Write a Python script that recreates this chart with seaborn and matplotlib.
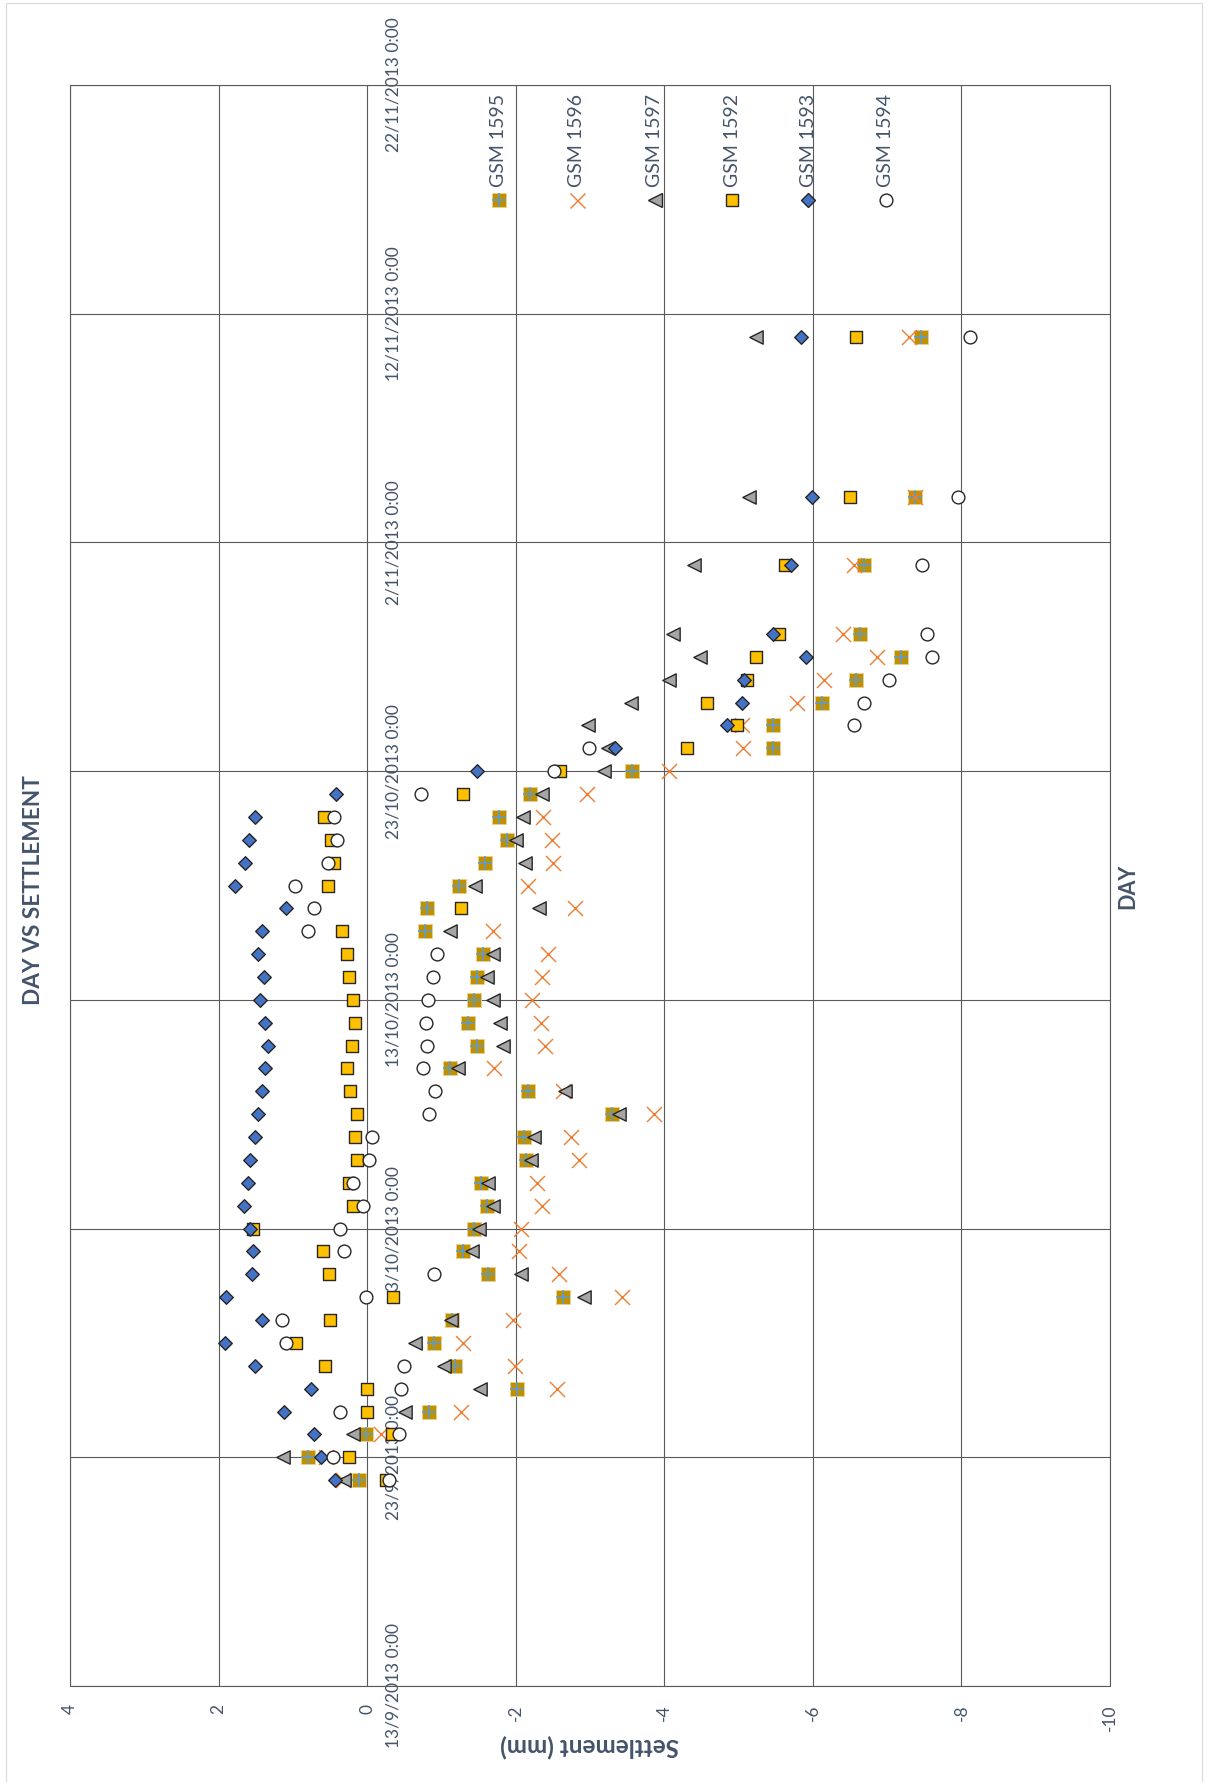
import numpy as np
import pandas as pd
import matplotlib
matplotlib.use("Agg")
import matplotlib.pyplot as plt
from matplotlib.lines import Line2D
from matplotlib.patches import Rectangle
import seaborn as sns

# ---- data -------------------------------------------------------------
dates = pd.to_datetime([
    "2013-09-22", "2013-09-23", "2013-09-24", "2013-09-25", "2013-09-26",
    "2013-09-27", "2013-09-28", "2013-09-29", "2013-09-30", "2013-10-01",
    "2013-10-02", "2013-10-03", "2013-10-04", "2013-10-05", "2013-10-06",
    "2013-10-07", "2013-10-08", "2013-10-09", "2013-10-10", "2013-10-11",
    "2013-10-12", "2013-10-13", "2013-10-14", "2013-10-15", "2013-10-16",
    "2013-10-17", "2013-10-18", "2013-10-19", "2013-10-20", "2013-10-21",
    "2013-10-22", "2013-10-23", "2013-10-24", "2013-10-25", "2013-10-26",
    "2013-10-27", "2013-10-28", "2013-10-29", "2013-11-01", "2013-11-04",
    "2013-11-11",
])

gsm_1595 = [0.11, 0.79, 0.01, -0.83, -2.02, -1.18, -0.90, -1.14, -2.64, -1.63,
            -1.29, -1.44, -1.61, -1.53, -2.14, -2.11, -3.30, -2.16, -1.11, -1.48,
            -1.36, -1.44, -1.48, -1.56, -0.78, -0.80, -1.24, -1.58, -1.88, -1.78,
            -2.19, -3.56, -5.47, -5.46, -6.12, -6.58, -7.19, -6.63, -6.69, -7.37,
            -7.45]
gsm_1596 = [0.32, 0.56, -0.18, -1.27, -2.55, -1.99, -1.29, -1.96, -3.43, -2.58,
            -2.05, -2.07, -2.36, -2.28, -2.85, -2.75, -3.86, -2.63, -1.71, -2.40,
            -2.34, -2.22, -2.36, -2.43, -1.70, -2.80, -2.17, -2.50, -2.49, -2.37,
            -2.96, -4.06, -5.06, -5.04, -5.79, -6.15, -6.87, -6.41, -6.56, -7.37,
            -7.29]
gsm_1597 = [0.31, 1.13, 0.19, -0.51, -1.52, -1.03, -0.65, -1.13, -2.92, -2.07,
            -1.41, -1.51, -1.69, -1.63, -2.20, -2.25, -3.39, -2.67, -1.22, -1.83,
            -1.79, -1.69, -1.62, -1.69, -1.12, -2.32, -1.45, -2.12, -2.01, -2.10,
            -2.35, -3.19, -3.24, -2.97, -3.55, -4.06, -4.48, -4.12, -4.40, -5.14,
            -5.23]
gsm_1592 = [-0.25, 0.24, -0.34, 0.00, 0.00, 0.57, 0.96, 0.50, -0.35, 0.52,
            0.59, 1.54, 0.19, 0.25, 0.13, 0.16, 0.14, 0.23, 0.27, 0.21,
            0.16, 0.19, 0.25, 0.27, 0.34, -1.27, 0.53, 0.45, 0.49, 0.575,
            -1.29, -2.60, -4.30, -4.98, -4.57, -5.12, -5.23, -5.55, -5.62, -6.50,
            -6.58]
gsm_1593 = [0.43, 0.62, 0.72, 1.12, 0.76, 1.51, 1.92, 1.42, 1.90, 1.55,
            1.53, 1.58, 1.66, 1.60, 1.58, 1.51, 1.47, 1.41, 1.38, 1.33,
            1.37, 1.44, 1.39, 1.47, 1.42, 1.09, 1.78, 1.64, 1.59, 1.51,
            0.42, -1.48, -3.33, -4.85, -5.04, -5.07, -5.91, -5.47, -5.71, -5.99,
            -5.84]
gsm_1594 = [-0.29, 0.46, -0.43, 0.36, -0.45, -0.49, 1.09, 1.14, 0.01, -0.90,
            0.31, 0.36, 0.06, 0.19, -0.02, -0.06, -0.83, -0.91, -0.75, -0.81,
            -0.79, -0.82, -0.89, -0.94, 0.79, 0.71, 0.97, 0.53, 0.40, 0.45,
            -0.72, -2.51, -2.98, -6.56, -6.69, -7.02, -7.60, -7.54, -7.47, -7.95,
            -8.12]

settlement_ticks = [4, 2, 0, -2, -4, -6, -8, -10]
date_ticks = pd.to_datetime(["2013-09-13", "2013-09-23", "2013-10-03", "2013-10-13",
                             "2013-10-23", "2013-11-02", "2013-11-12", "2013-11-22"])
date_tick_labels = ["13/9/2013 0:00", "23/9/2013 0:00", "3/10/2013 0:00",
                    "13/10/2013 0:00", "23/10/2013 0:00", "2/11/2013 0:00",
                    "12/11/2013 0:00", "22/11/2013 0:00"]
legend_labels = ["GSM 1595", "GSM 1596", "GSM 1597", "GSM 1592", "GSM 1593", "GSM 1594"]

# ---- style ------------------------------------------------------------
sns.set_theme(style="white")
plt.rcParams["font.family"] = ["Lato", "DejaVu Sans"]
TEXT = "#44546A"
GRID = "#5A5A5A"
EDGE = "#262626"

W, H = 1211, 1782
fig = plt.figure(figsize=(W / 100, H / 100), dpi=100)
fig.patch.set_facecolor("white")
# light chart-area border (its lower edge runs past the canvas)
fig.add_artist(Rectangle((6 / W, -10 / H), 1196 / W, 1789 / H, transform=fig.transFigure,
                         fill=False, edgecolor="#D9D9D9", linewidth=0.8))

x0, x1, y0, y1 = 70, 1110, 85, 1686
ax = fig.add_axes([x0 / W, 1 - y1 / H, (x1 - x0) / W, (y1 - y0) / H])

# marker styles per series (drawn in legend order, later ones on top)
styles = {
    "GSM 1596": dict(marker="x", s=10.8 ** 2, color="#ED7D31", linewidth=1.0),
    "GSM 1597": dict(marker="<", s=9.6 ** 2, color="#A5A5A5", edgecolor=EDGE, linewidth=1.0),
    "GSM 1592": dict(marker="s", s=8.6 ** 2, color="#FFC000", edgecolor=EDGE, linewidth=1.0),
    "GSM 1593": dict(marker="D", s=6.9 ** 2, color="#4472C4", edgecolor=EDGE, linewidth=1.0),
    "GSM 1594": dict(marker="o", s=9.2 ** 2, color="white", edgecolor=EDGE, linewidth=1.0),
}
sq_1595 = dict(marker="s", s=10.0 ** 2, color="#BF9000", edgecolor="#EAD08A", linewidth=0.6)
plus_1595 = dict(marker="+", s=9.4 ** 2, color="#5B9BD5", linewidth=1.1)

sns.scatterplot(x=gsm_1595, y=dates, ax=ax, zorder=3, **sq_1595)
sns.scatterplot(x=gsm_1595, y=dates, ax=ax, zorder=3.1, **plus_1595)
series = [("GSM 1596", gsm_1596), ("GSM 1597", gsm_1597), ("GSM 1592", gsm_1592),
          ("GSM 1593", gsm_1593), ("GSM 1594", gsm_1594)]
for i, (name, vals) in enumerate(series):
    sns.scatterplot(x=vals, y=dates, ax=ax, zorder=4 + i, **styles[name])

# ---- axes -------------------------------------------------------------
ax.set_xlim(4, -10)
ax.set_xticks(settlement_ticks)
ax.set_xticklabels([str(t) for t in settlement_ticks])
ax.set_ylim(date_ticks[0], date_ticks[-1])
ax.set_yticks(date_ticks)
ax.set_yticklabels(date_tick_labels)
ax.set_xlabel("")
ax.set_ylabel("")

# date labels sit beside the zero-settlement line
ax.yaxis.tick_right()
ax.spines["right"].set_position(("data", 0))
for sp in ax.spines.values():
    sp.set_visible(False)
ax.add_patch(Rectangle((0, 0), 1, 1, transform=ax.transAxes, fill=False,
                       edgecolor=GRID, linewidth=0.8, zorder=2, clip_on=False))

ax.grid(True, color=GRID, linewidth=0.8)
ax.set_axisbelow(True)
ax.tick_params(axis="y", length=0, pad=13, labelsize=12.5, labelcolor=TEXT, labelrotation=90)
for lbl in ax.get_yticklabels():
    lbl.set_verticalalignment("center")
    lbl.set_horizontalalignment("left")
ax.tick_params(axis="x", length=0, pad=13, labelsize=12.5, labelcolor=TEXT, labelrotation=90)

# ---- titles -----------------------------------------------------------
fig.text(34 / W, 1 - 890 / H, "DAY VS SETTLEMENT", rotation=90, ha="center", va="center",
         fontsize=16.3, fontweight="bold", color=TEXT)
fig.text(590 / W, 1 - 1746 / H, "Settlement (mm)", rotation=180, ha="center", va="center",
         fontsize=17.5, fontweight="bold", color=TEXT)
fig.text(1128 / W, 1 - 886 / H, "DAY", rotation=90, ha="center", va="center",
         fontsize=15.5, fontweight="bold", color=TEXT)

# ---- legend -----------------------------------------------------------
leg_x = [499, 577, 655, 732, 808, 886]
leg_y = 200
for name, lx in zip(legend_labels, leg_x):
    fx, fy = lx / W, 1 - leg_y / H
    if name == "GSM 1595":
        fig.add_artist(Line2D([fx], [fy], transform=fig.transFigure, marker="s",
                              markersize=10.0, markerfacecolor="#BF9000",
                              markeredgecolor="#EAD08A", markeredgewidth=0.6, linestyle=""))
        fig.add_artist(Line2D([fx], [fy], transform=fig.transFigure, marker="+",
                              markersize=9.4, markeredgecolor="#5B9BD5",
                              markeredgewidth=1.1, linestyle=""))
    else:
        st = styles[name]
        fig.add_artist(Line2D([fx], [fy], transform=fig.transFigure, marker=st["marker"],
                              markersize=np.sqrt(st["s"]), markerfacecolor=st["color"],
                              markeredgecolor=st.get("edgecolor", st["color"]),
                              markeredgewidth=st["linewidth"], linestyle=""))
    fig.text(fx, 1 - 187 / H, name, rotation=90, ha="center", va="bottom",
             fontsize=14, color=TEXT)

fig.savefig("out.png", dpi=100, facecolor="white")
